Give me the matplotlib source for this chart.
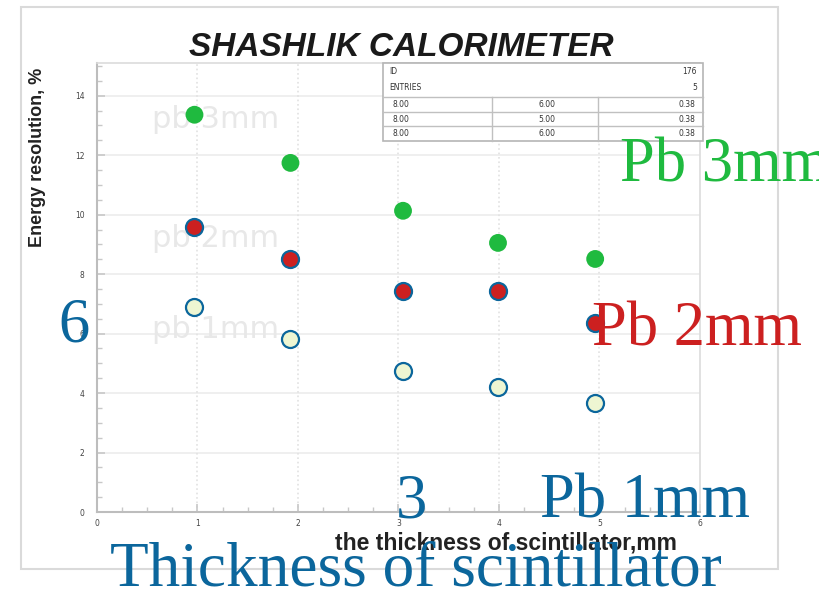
import numpy as np
import matplotlib
matplotlib.use("Agg")
import matplotlib.pyplot as plt
from matplotlib.patches import Rectangle
from matplotlib.lines import Line2D

# ---- data ----
thick_x = [0.97, 1.925, 3.045, 3.99, 4.957]
pb3_res = [13.36, 11.74, 10.13, 9.05, 8.51]
pb2_res = [9.59, 8.51, 7.44, 7.44, 6.36]
pb1_res = [6.90, 5.83, 4.75, 4.21, 3.67]

y_ticks = [0, 2, 4, 6, 8, 10, 12, 14]
x_ticks = [0, 1, 2, 3, 4, 5, 6]
watermarks = ["pb 3mm", "pb 2mm", "pb 1mm"]
watermark_y = [13.2, 9.2, 6.15]

stat_head = [("ID", "176"), ("ENTRIES", "5")]
stat_rows = [("8.00", "6.00", "0.38"),
             ("8.00", "5.00", "0.38"),
             ("8.00", "6.00", "0.38")]

GREEN = "#1fba3f"
RED = "#cc2020"
BLUE = "#0b669c"
PALE = "#eef6d2"

W, H = 820, 591
fig = plt.figure(figsize=(8.2, 5.91), dpi=100)

def fx(px):
    return px / W

def fy(py):
    return 1 - py / H

# outer light frame of the scanned picture
fig.add_artist(Rectangle((fx(21), fy(569)), fx(778) - fx(21), fy(7) - fy(569),
                         transform=fig.transFigure, fill=False,
                         edgecolor="#dadada", lw=1.5))

ax = fig.add_axes([fx(97), fy(512), fx(700) - fx(97), fy(63) - fy(512)])
ax.set_xlim(0, 6)
ax.set_ylim(0, 15.1)

for s in ["left", "bottom"]:
    ax.spines[s].set_color("#bdbdbd")
    ax.spines[s].set_linewidth(1.5)
for s in ["top", "right"]:
    ax.spines[s].set_color("#dcdcdc")
    ax.spines[s].set_linewidth(1.2)

ax.set_xticks(x_ticks)
ax.set_yticks(y_ticks)
ax.set_xticks(np.arange(0, 6.01, 0.25), minor=True)
ax.set_yticks(np.arange(0, 15.01, 0.5), minor=True)
ax.tick_params(which="major", direction="in", length=6, width=1.2,
               color="#c8c8c8", labelsize=5.5, labelcolor="#444444")
ax.tick_params(which="minor", direction="in", length=3.5, width=1,
               color="#c8c8c8")
ax.tick_params(axis="y", pad=9)
ax.tick_params(axis="x", pad=5)

# grid: solid horizontal, dotted vertical
for y in y_ticks[1:]:
    ax.axhline(y, color="#ececec", lw=1.2, zorder=0)
for x in x_ticks[1:-1]:
    ax.axvline(x, color="#e2e2e2", lw=1.2, ls=":", zorder=0)

# faint labels inside the original plot
for lab, wy in zip(watermarks, watermark_y):
    ax.text(0.55, wy, lab, fontsize=22, color="#e8e8e8",
            family="DejaVu Sans", va="center", ha="left", zorder=1)

ax.scatter(thick_x, pb1_res, s=150, facecolor=PALE, edgecolor=BLUE,
           linewidth=1.6, zorder=3)
ax.scatter(thick_x, pb2_res, s=150, facecolor=RED, edgecolor=BLUE,
           linewidth=1.6, zorder=3)
ax.scatter(thick_x, pb3_res, s=165, facecolor=GREEN, edgecolor="none",
           zorder=3)

ax.set_ylabel("Energy resolution, %", fontsize=13, fontweight="bold",
              family="Liberation Sans", color="#222222")
ax.yaxis.set_label_coords(-0.0846, 0.79)

fig.text(fx(506), fy(543), "the thickness of scintillator,mm", fontsize=16.5,
         fontweight="bold", family="Liberation Sans", color="#222222",
         ha="center", va="center")
fig.text(fx(401), fy(47), "SHASHLIK CALORIMETER", fontsize=24,
         fontweight="bold", style="italic", family="Liberation Sans",
         color="#1a1a1a", ha="center", va="center")

# statistics box
tx0, tx1, ty0, ty1 = 383, 703, 63, 141
fig.add_artist(Rectangle((fx(tx0), fy(ty1)), fx(tx1) - fx(tx0), fy(ty0) - fy(ty1),
                         transform=fig.transFigure, facecolor="white",
                         edgecolor="#b5b5b5", lw=1.2, zorder=4))
for ly in [97, 112, 126]:
    fig.add_artist(Line2D([fx(tx0), fx(tx1)], [fy(ly), fy(ly)],
                          transform=fig.transFigure, color="#c0c0c0", lw=1, zorder=5))
for lx in [492, 598]:
    fig.add_artist(Line2D([fx(lx), fx(lx)], [fy(97), fy(ty1)],
                          transform=fig.transFigure, color="#c0c0c0", lw=1, zorder=5))
for (name, val), ry in zip(stat_head, [72, 87]):
    fig.text(fx(389), fy(ry), name, fontsize=5.5, color="#333333",
             ha="left", va="center", zorder=6)
    fig.text(fx(697), fy(ry), val, fontsize=5.5, color="#333333",
             ha="right", va="center", zorder=6)
for (a, b, c), ry in zip(stat_rows, [104.5, 119, 133.5]):
    fig.text(fx(393), fy(ry), a, fontsize=5.5, color="#333333",
             ha="left", va="center", zorder=6)
    fig.text(fx(547), fy(ry), b, fontsize=5.5, color="#333333",
             ha="center", va="center", zorder=6)
    fig.text(fx(695), fy(ry), c, fontsize=5.5, color="#333333",
             ha="right", va="center", zorder=6)

# slide overlay labels
serif = "Liberation Serif"
fig.text(fx(620), fy(182), "Pb 3mm", fontsize=45, family=serif, color=GREEN,
         va="baseline", ha="left", zorder=10)
fig.text(fx(592), fy(345), "Pb 2mm", fontsize=45, family=serif, color=RED,
         va="baseline", ha="left", zorder=10)
fig.text(fx(58), fy(342), "6", fontsize=45, family=serif, color=BLUE,
         va="baseline", ha="left", zorder=10)
fig.text(fx(396), fy(517), "3", fontsize=45, family=serif, color=BLUE,
         va="baseline", ha="left", zorder=10)
fig.text(fx(540), fy(518), "Pb 1mm", fontsize=45, family=serif, color=BLUE,
         va="baseline", ha="left", zorder=10)
fig.text(fx(110), fy(585), "Thickness of scintillator", fontsize=45.5,
         family=serif, color=BLUE, va="baseline", ha="left", zorder=10)

fig.savefig("out.png", dpi=100)
